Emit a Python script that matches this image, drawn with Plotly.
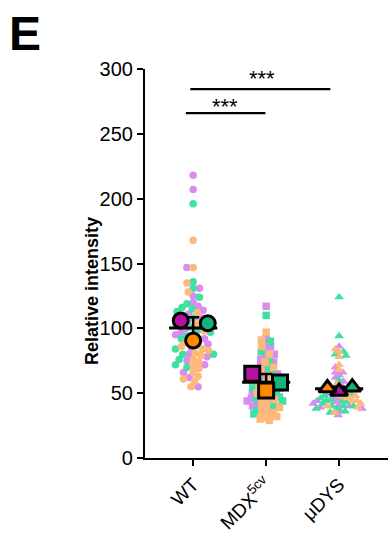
import numpy as np
import plotly.graph_objects as go

# ---------------- data ----------------
categories = ["WT", "MDX5cv", "uDYS"]
tick_labels = ["WT", "MDX<sup>5cv</sup>", "μDYS"]
mouse_names = ["Mouse 1", "Mouse 2", "Mouse 3"]

wt_purple = [218, 207, 147, 131, 125, 120, 117, 114, 111, 108, 106, 104, 100, 97, 95, 92, 88, 85, 80, 78, 75, 72, 66, 55, 62]
wt_green = [196, 136, 131, 124, 119, 116, 113, 110, 108, 105, 103, 101, 99, 97, 94, 92, 90, 87, 84, 80, 76, 70, 80, 72, 115]
wt_orange = [168, 147, 135, 128, 112, 104, 98, 95, 92, 89, 86, 84, 81, 79, 76, 74, 71, 69, 66, 63, 61, 59, 55, 83]

mdx_purple = [117, 92, 88, 86, 83, 80, 78, 76, 74, 72, 70, 68, 66, 64, 62, 60, 58, 56, 54, 52, 50, 48, 46, 44, 42, 40, 38, 65, 61, 57]
mdx_green = [110, 90, 82, 76, 72, 68, 65, 62, 60, 58, 56, 54, 52, 50, 48, 46, 44, 42, 40, 37, 34, 55, 51, 47]
mdx_orange = [97, 91, 86, 80, 74, 68, 63, 58, 54, 50, 47, 44, 42, 40, 38, 36, 35, 34, 33, 32, 31, 30, 29, 45, 39, 60, 70]

dys_purple = [86, 66, 64, 70, 66, 62, 59, 56, 53, 51, 49, 47, 45, 43, 41, 39, 36, 33, 40, 38, 44, 42]
dys_green = [124, 94, 82, 80, 79, 60, 42, 40, 48, 44, 38, 44, 49, 46, 43, 40, 35, 36, 45, 38, 40]
dys_orange = [84, 82, 78, 72, 68, 50, 48, 57, 54, 51, 48, 46, 44, 42, 39, 35, 50, 47, 44, 40]

data = {
    "WT": [wt_purple, wt_green, wt_orange],
    "MDX5cv": [mdx_purple, mdx_green, mdx_orange],
    "uDYS": [dys_purple, dys_green, dys_orange],
}

y_ticks = [0, 50, 100, 150, 200, 250, 300]

# ---------------- style / layout ----------------
W, H = 388, 540
ML, MR, MT, MB = 145, 0, 69, 82
XR = [-0.66, 2.67]
YR = [0, 300]
pw = W - ML - MR
ph = H - MT - MB
px_x = pw / (XR[1] - XR[0])
px_y = ph / (YR[1] - YR[0])

light = ["#d98cf2", "#3fe0a2", "#fdb97c"]
dark = ["#b3129f", "#14b37d", "#ff8800"]
symbols = {"WT": "circle", "MDX5cv": "square", "uDYS": "triangle-up"}
small_size = {"WT": 7.5, "MDX5cv": 7.5, "uDYS": 8.5}
collide = {"WT": 6.3, "MDX5cv": 5.0, "uDYS": 4.5}
mean_offsets = {"WT": [-0.17, 0.20, 0.0], "MDX5cv": [-0.19, 0.19, 0.0], "uDYS": [0.0, 0.18, -0.16]}
FONT = "Liberation Sans, Arial, sans-serif"


def swarm(values, d):
    """Beeswarm offsets (px) for values, with collision diameter d (px)."""
    vals = np.asarray(values, float) * px_y
    order = np.argsort(-vals, kind="stable")
    placed = []
    offs = np.zeros(len(vals))
    for i in order:
        y = vals[i]
        near = [(x, yy) for x, yy in placed if abs(yy - y) < d]
        cands = [0.0]
        for x, yy in near:
            dx = np.sqrt(d * d - (yy - y) ** 2)
            cands += [x + dx, x - dx]
        cands.sort(key=lambda c: (abs(c), c))
        best = cands[-1]
        for c in cands:
            if all((c - x) ** 2 + (yy - y) ** 2 >= d * d - 1e-6 for x, yy in near):
                best = c
                break
        offs[i] = best
        placed.append((best, y))
    return offs


fig = go.Figure()

for gi, cat in enumerate(categories):
    series = data[cat]
    allv, lab = [], []
    maxlen = max(len(s) for s in series)
    for k in range(maxlen):
        for mi, s in enumerate(series):
            if k < len(s):
                allv.append(s[k])
                lab.append(mi)
    allv = np.array(allv, float)
    lab = np.array(lab)
    offs = swarm(allv, collide[cat]) / px_x
    for mi in range(3):
        m = lab == mi
        fig.add_trace(go.Scatter(
            x=gi + offs[m], y=allv[m], mode="markers",
            marker=dict(symbol=symbols[cat], size=small_size[cat], color=light[mi], line=dict(width=0)),
            showlegend=False, hoverinfo="y"))

for gi, cat in enumerate(categories):
    means = [float(np.mean(s)) for s in data[cat]]
    gm = float(np.mean(means))
    sd = float(np.std(means, ddof=1))
    fig.add_trace(go.Scatter(
        x=[gi - 0.33, gi + 0.33], y=[gm, gm], mode="lines",
        line=dict(color="black", width=3), showlegend=False, hoverinfo="skip"))
    fig.add_trace(go.Scatter(
        x=[gi], y=[gm], mode="markers", marker=dict(size=1, color="rgba(0,0,0,0)"),
        error_y=dict(type="data", array=[sd], color="black", thickness=2.5, width=6),
        showlegend=False, hoverinfo="skip"))
    for mi in range(3):
        fig.add_trace(go.Scatter(
            x=[gi + mean_offsets[cat][mi]], y=[means[mi]], mode="markers",
            marker=dict(symbol=symbols[cat], size=15, color=dark[mi], line=dict(color="black", width=3)),
            showlegend=False, hoverinfo="y"))

# significance bars
sig = [(-0.10, 0.99, 266, 0.44, 271), (-0.04, 1.88, 284.5, 0.945, 292.5)]
for x0, x1, yb, xs, ys in sig:
    fig.add_shape(type="line", x0=x0, x1=x1, y0=yb, y1=yb, xref="x", yref="y",
                  line=dict(color="black", width=2.2))
    fig.add_annotation(x=xs, y=ys, xref="x", yref="y", text="***", showarrow=False,
                       font=dict(family=FONT, size=22, color="black"))

fig.add_annotation(x=(7 - ML) / pw, y=(H - MB - 5) / ph, xref="paper", yref="paper",
                   text="<b>E</b>", showarrow=False, xanchor="left", yanchor="top",
                   font=dict(family=FONT, size=48, color="black"))
fig.add_annotation(x=(80 - ML) / pw, y=(H - MB - 291) / ph, xref="paper", yref="paper",
                   text="<b>Relative intensity</b>", showarrow=False, textangle=-90,
                   font=dict(family=FONT, size=18, color="black"))

fig.update_layout(
    width=W, height=H, margin=dict(l=ML, r=MR, t=MT, b=MB),
    paper_bgcolor="white", plot_bgcolor="white", showlegend=False,
    font=dict(family=FONT, color="black"),
    xaxis=dict(range=XR, tickmode="array", tickvals=[0, 1, 2], ticktext=tick_labels,
               tickangle=-45, ticks="outside", ticklen=6, tickwidth=2, tickcolor="black",
               showline=True, linecolor="black", linewidth=2.2, showgrid=False, zeroline=False,
               tickfont=dict(family=FONT, size=19, color="black")),
    yaxis=dict(range=YR, tickmode="array", tickvals=y_ticks, ticks="outside", ticklen=6,
               tickwidth=2, tickcolor="black", showline=True, linecolor="black", linewidth=2.2,
               showgrid=False, zeroline=False, tickfont=dict(family=FONT, size=20, color="black")),
)

fig.write_html("out.html", config={"displayModeBar": False},
               post_script="document.body.style.margin='0';")
